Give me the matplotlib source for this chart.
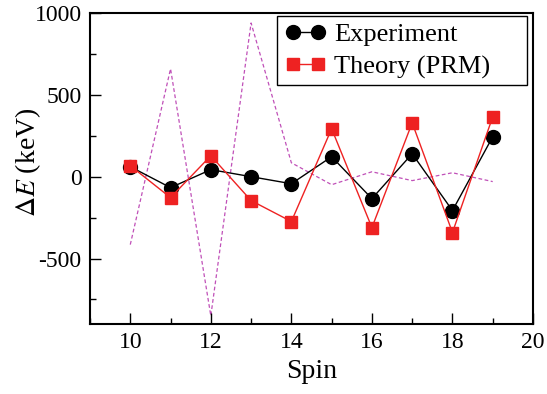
import matplotlib
matplotlib.use("Agg")
import matplotlib.pyplot as plt
from matplotlib.ticker import MultipleLocator
from matplotlib.patches import Rectangle

spin = [10, 11, 12, 13, 14, 15, 16, 17, 18, 19]
experiment = [61, -67, 43, 0, -43, 122, -134, 140, -207, 244]
theory = [67, -128, 128, -146, -274, 293, -311, 329, -341, 366]
dashed = [-415, 659, -850, 939, 85, -49, 30, -24, 24, -30]

plt.rcParams['font.family'] = ['Liberation Serif', 'DejaVu Serif']
plt.rcParams['mathtext.fontset'] = 'stix'
plt.rcParams['axes.unicode_minus'] = False

W, H = 547, 394
fig = plt.figure(figsize=(W/100, H/100), dpi=100)
ax = fig.add_axes([90/W, 1-324/H, 443/W, 311/H])

ax.plot(spin, dashed, color='#c050b8', lw=0.9, ls=(0, (3, 2)), zorder=1)
ax.plot(spin, experiment, color='black', lw=1.0, marker='o', ms=10,
        label='Experiment', zorder=2)
ax.plot(spin, theory, color='#ee2222', lw=1.0, marker='s', ms=9,
        mec='#ee2222', mfc='#ee2222', label='Theory (PRM)', zorder=3)

ax.set_xlim(9, 20)
ax.set_ylim(-900, 1000)
ax.xaxis.set_major_locator(MultipleLocator(2))
ax.xaxis.set_minor_locator(MultipleLocator(1))
ax.yaxis.set_major_locator(MultipleLocator(500))
ax.yaxis.set_minor_locator(MultipleLocator(250))
ax.tick_params(which='both', direction='in', top=False, right=False, labelsize=17, pad=6)
ax.tick_params(which='major', length=8, width=1)
ax.tick_params(which='minor', length=4, width=1)
for s in ax.spines.values():
    s.set_linewidth(1.5)

ax.set_xlabel('Spin', fontsize=20, labelpad=4)
ax.set_ylabel(r'$\Delta E$ (keV)', fontsize=20)
ax.yaxis.set_label_coords(-0.105, 0.52)

# legend frame (fixed-size box as in the reference)
frame = Rectangle((277/W, 1-85/H), 250/W, 69/H, transform=fig.transFigure,
                  facecolor='white', edgecolor='black', lw=1.0, zorder=4,
                  clip_on=False)
ax.add_patch(frame)

leg = ax.legend(loc='upper left', fontsize=19, frameon=False, numpoints=2,
                handlelength=1.55, borderpad=0, labelspacing=0.32,
                handletextpad=0.3, borderaxespad=0,
                bbox_to_anchor=((285-90)/443, (324-23)/311))
leg.set_zorder(5)

fig.savefig('out.png', dpi=100)
